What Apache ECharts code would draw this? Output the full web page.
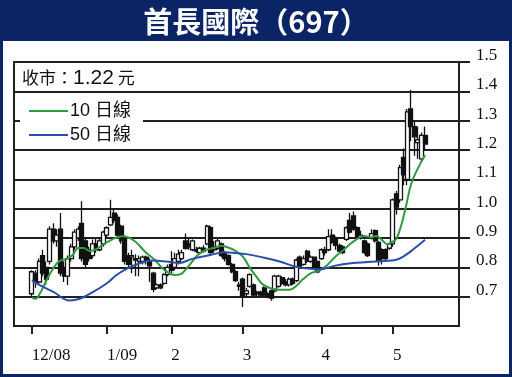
<!DOCTYPE html>
<html><head><meta charset="utf-8">
<script src="https://cdn.jsdelivr.net/npm/echarts@6/dist/echarts.min.js"></script>
<style>html,body{margin:0;padding:0;background:#fff}#c{width:512px;height:377px}</style>
</head><body><div id="c"></div>
<script>
// Daily candles, 1 Dec 2008 .. mid May 2009 (index = trading day)
const opens  = [0.71,0.78,0.75,0.84,0.80,0.82,0.93,0.89,0.93,0.80,0.77,0.83,0.87,0.90,0.95,0.89,0.86,0.84,0.88,0.86,0.88,
  0.91,0.945,0.985,0.97,0.94,0.90,0.84,0.835,0.83,0.82,0.82,0.835,0.82,0.78,0.73,0.74,0.745,0.775,
  0.81,0.80,0.82,0.83,0.89,0.88,0.86,0.86,0.85,0.865,0.88,0.935,0.86,0.865,0.88,0.85,0.84,0.81,0.785,0.74,
  0.76,0.71,0.735,0.74,0.71,0.715,0.73,0.71,0.72,0.72,0.735,0.765,0.75,0.74,0.76,0.755,0.835,0.81,0.855,0.82,0.835,0.82,
  0.83,0.86,0.86,0.91,0.90,0.875,0.87,0.895,0.96,0.975,0.935,0.90,0.89,0.88,0.90,0.925,0.885,0.86,0.86,0.865,
  0.88,1.05,1.03,1.175,1.10,1.34,1.28,1.225,1.17,1.25];
const closes = [0.785,0.75,0.82,0.78,0.76,0.93,0.89,0.91,0.78,0.77,0.83,0.87,0.92,0.93,0.83,0.81,0.83,0.88,0.86,0.89,0.92,
  0.935,0.97,0.96,0.91,0.89,0.82,0.81,0.84,0.825,0.83,0.835,0.825,0.805,0.725,0.74,0.73,0.775,0.80,
  0.79,0.83,0.845,0.85,0.865,0.87,0.89,0.855,0.865,0.855,0.94,0.85,0.87,0.89,0.84,0.83,0.81,0.785,0.755,0.735,
  0.70,0.72,0.775,0.705,0.715,0.705,0.705,0.70,0.695,0.77,0.77,0.745,0.74,0.76,0.745,0.825,0.80,0.83,0.82,0.835,0.80,0.785,
  0.86,0.85,0.905,0.885,0.875,0.855,0.85,0.935,0.92,0.93,0.905,0.91,0.85,0.84,0.915,0.89,0.82,0.83,0.83,0.88,
  1.03,1.005,1.14,1.115,1.33,1.28,1.245,1.235,1.25,1.22];
const lows   = [0.70,0.73,0.74,0.77,0.74,0.81,0.88,0.87,0.77,0.75,0.74,0.82,0.86,0.89,0.82,0.80,0.82,0.83,0.85,0.855,0.87,
  0.90,0.94,0.95,0.90,0.88,0.81,0.80,0.78,0.77,0.77,0.81,0.81,0.75,0.715,0.725,0.725,0.74,0.77,
  0.78,0.79,0.81,0.825,0.86,0.86,0.855,0.85,0.845,0.85,0.875,0.845,0.85,0.86,0.835,0.82,0.805,0.78,0.75,0.72,
  0.665,0.70,0.73,0.70,0.70,0.70,0.70,0.695,0.686,0.715,0.73,0.74,0.735,0.735,0.74,0.75,0.795,0.805,0.815,0.815,0.795,0.78,
  0.825,0.84,0.855,0.88,0.86,0.85,0.845,0.89,0.915,0.925,0.90,0.895,0.845,0.835,0.895,0.885,0.805,0.81,0.825,0.86,
  0.87,0.98,1.02,1.08,1.08,1.23,1.18,1.17,1.16,1.20];
const highs  = [0.79,0.79,0.83,0.86,0.82,0.94,0.95,0.93,0.985,0.82,0.84,0.88,0.93,0.94,1.025,0.90,0.87,0.895,0.90,0.90,0.925,
  0.94,1.03,1.00,0.98,0.945,0.905,0.85,0.86,0.845,0.84,0.84,0.84,0.83,0.785,0.745,0.745,0.78,0.81,
  0.855,0.85,0.86,0.86,0.915,0.90,0.895,0.87,0.87,0.875,0.945,0.94,0.89,0.90,0.885,0.855,0.845,0.815,0.79,0.75,
  0.765,0.73,0.78,0.745,0.72,0.72,0.735,0.715,0.725,0.775,0.775,0.77,0.76,0.765,0.765,0.83,0.84,0.84,0.86,0.84,0.835,0.82,
  0.865,0.87,0.93,0.93,0.905,0.88,0.875,0.94,0.985,0.99,0.94,0.925,0.895,0.885,0.93,0.93,0.89,0.865,0.865,0.885,
  1.035,1.06,1.15,1.205,1.34,1.46,1.30,1.28,1.26,1.28];

// moving averages: [trading-day index, value]
const ma10 = [[0,0.697],[1,0.693],[2.2,0.71],[4.1,0.756],[6,0.797],[7.8,0.822],[9.7,0.828],[11.5,0.843],[13,0.866],
  [14.5,0.866],[16.2,0.856],[18,0.862],[21,0.886],[25.5,0.906],[28.8,0.889],[31.6,0.854],[34.4,0.825],[37.2,0.79],
  [40,0.774],[41.8,0.778],[43.7,0.802],[46.5,0.843],[48.8,0.86],[51.1,0.867],[53,0.874],[54.8,0.868],[56.7,0.858],
  [59,0.837],[60.9,0.80],[62.8,0.768],[64.6,0.742],[67,0.728],[69.3,0.724],[72.1,0.724],[73.9,0.736],[75.8,0.759],
  [78.1,0.78],[80.4,0.789],[82.5,0.806],[84.6,0.833],[87.4,0.862],[90.2,0.89],[93,0.907],[94.9,0.902],[96.3,0.907],
  [97.7,0.896],[99.5,0.879],[100.5,0.885],[101.9,0.896],[103.3,0.942],[104.7,1.01],[106.1,1.084],[107.9,1.135],[110,1.183]];
const ma50 = [[0,0.756],[2.2,0.739],[6,0.716],[10.6,0.687],[13.4,0.693],[17.1,0.716],[20.9,0.745],[23.7,0.774],
  [26.5,0.795],[30.2,0.814],[33.9,0.823],[37.6,0.82],[41.3,0.815],[44.6,0.828],[49.2,0.84],[53.9,0.851],[56.7,0.849],
  [60,0.845],[64.6,0.834],[69.3,0.82],[73.9,0.802],[78.6,0.794],[80.4,0.793],[84.6,0.805],[89.3,0.814],[93.9,0.818],
  [98.6,0.822],[101.4,0.824],[104.2,0.839],[107,0.864],[110,0.894]];

const monthTicks  = [0,21,39,59,81,101];
const monthLabels = ['12/08','1/09','2','3','4','5'];
const priceTicks  = [0.7,0.8,0.9,1.0,1.1,1.2,1.3,1.4,1.5];

const NAVY = '#0b2466', INK = '#231f20';
const candles = opens.map((o,i)=>[i,o,closes[i],lows[i],highs[i]]);
const lastClose = closes[closes.length-1].toFixed(2);

const chart = echarts.init(document.getElementById('c'), null, {renderer:'canvas'});
chart.setOption({
  animation:false,
  backgroundColor:'#ffffff',
  grid:{left:14,right:53,top:62,bottom:51,show:true,borderColor:INK,borderWidth:2,backgroundColor:'transparent'},
  xAxis:{type:'value',min:-5,max:119.5,
    axisLine:{show:true,onZero:false,lineStyle:{color:INK,width:2}},
    splitLine:{show:false},
    axisTick:{show:true,inside:false,length:8,customValues:monthTicks,lineStyle:{color:INK,width:2}},
    axisLabel:{show:true,customValues:monthTicks,margin:21,align:'left',
      fontFamily:'Liberation Serif',fontSize:17,color:'#111',
      formatter:v=>monthLabels[monthTicks.indexOf(Math.round(v))]||''}},
  yAxis:{type:'value',position:'right',min:0.6,max:1.5,interval:0.1,
    axisLine:{show:true,onZero:false,lineStyle:{color:INK,width:2}},
    splitLine:{show:true,lineStyle:{color:INK,width:2}},
    axisTick:{show:true,inside:false,length:11,customValues:priceTicks,lineStyle:{color:INK,width:2}},
    axisLabel:{show:true,customValues:priceTicks,margin:17,fontFamily:'Liberation Serif',fontSize:17,color:'#111',
      verticalAlign:'bottom',lineHeight:13,formatter:v=>v.toFixed(1)}},
  series:[
    {type:'candlestick',data:candles,encode:{x:0,y:[1,2,3,4]},barWidth:4.5,
      itemStyle:{color:'#ffffff',color0:'#111111',borderColor:'#111111',borderColor0:'#111111',borderWidth:1.3},
      z:3},
    {type:'line',data:ma10,smooth:0.4,showSymbol:false,lineStyle:{color:'#2f9a41',width:2},z:4},
    {type:'line',data:ma50,smooth:0.4,showSymbol:false,lineStyle:{color:'#2b4ea6',width:2},z:4}
  ],
  graphic:[
    {type:'rect',shape:{x:0,y:0,width:512,height:41},style:{fill:NAVY},z:20},
    {type:'rect',shape:{x:0,y:0,width:3,height:377},style:{fill:NAVY},z:20},
    {type:'rect',shape:{x:509,y:0,width:3,height:377},style:{fill:NAVY},z:20},
    {type:'rect',shape:{x:0,y:374,width:512,height:3},style:{fill:NAVY},z:20},
    {type:'text',x:256,y:22,z:21,style:{text:'首長國際（697）',fill:'#ffffff',
      font:'bold 29px "Noto Sans CJK TC", "Liberation Sans"',align:'center',verticalAlign:'middle'}},
    {type:'rect',shape:{x:15,y:63,width:443,height:27},style:{fill:'#ffffff'},z:10},
    {type:'text',x:22,y:78,z:11,style:{text:'{a|收市：}{b|'+lastClose+'}{a| 元}',verticalAlign:'middle',
      rich:{a:{fontFamily:'Noto Sans CJK TC',fontSize:17,fill:'#111'},b:{fontFamily:'Liberation Sans',fontSize:21,fill:'#111'}}}},
    {type:'rect',shape:{x:20,y:93,width:123,height:54},style:{fill:'#ffffff'},z:10},
    {type:'line',shape:{x1:29,y1:111,x2:68,y2:111},style:{stroke:'#2f9a41',lineWidth:2},z:11},
    {type:'line',shape:{x1:29,y1:135,x2:68,y2:135},style:{stroke:'#2b4ea6',lineWidth:2},z:11},
    {type:'text',x:70,y:111,z:11,style:{text:'10 日線',fill:'#111',font:'18px "Liberation Sans", "Noto Sans CJK TC"',verticalAlign:'middle'}},
    {type:'text',x:70,y:135,z:11,style:{text:'50 日線',fill:'#111',font:'18px "Liberation Sans", "Noto Sans CJK TC"',verticalAlign:'middle'}}
  ]
});
</script></body></html>
